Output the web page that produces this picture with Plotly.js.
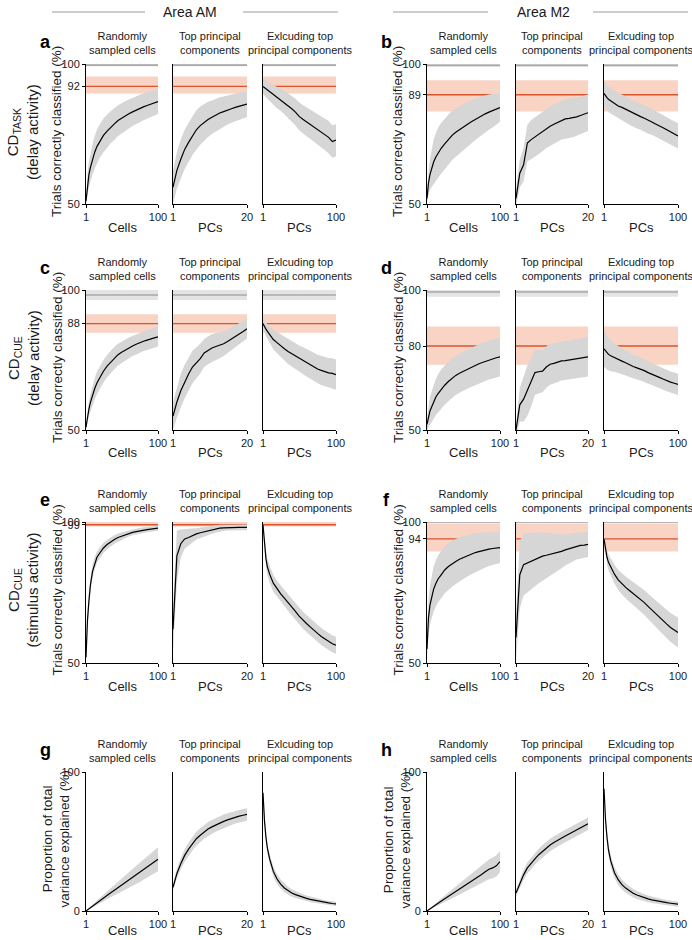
<!DOCTYPE html>
<html>
<head>
<meta charset="utf-8">
<script src="https://cdn.plot.ly/plotly-3.0.1.min.js"></script>
<style>
html,body{margin:0;padding:0;background:#fff;}
#chart{width:692px;height:940px;}
</style>
</head>
<body>
<div id="chart"></div>
<script>
// ---------------- DATA ----------------
const xCells = [1,2,3,5,7,10,13,16,20,25,30,35,40,45,50,55,60,65,70,75,80,85,90,95,100];
const xPCs   = [1,2,3,4,5,6,7,8,9,10,11,12,13,14,15,16,17,18,19,20];
const xExcl  = [1,2,3,5,7,10,15,20,25,30,35,40,45,50,55,60,65,70,75,80,85,90,95,100];

// Panel a: Area AM, CD_TASK (delay activity)
const a1Mean = [51,54,57,60.5,63,66,68.5,70.5,72.5,74.5,76,77.5,78.6,79.8,80.7,81.4,82.2,82.9,83.6,84.1,84.7,85.2,85.6,86.1,86.6];
const a1Sd   = [1,2.5,3.5,4.5,5,5.5,5.8,6,6,6,6,5.8,5.7,5.5,5.4,5.3,5.2,5,5,4.9,4.8,4.7,4.6,4.5,4.5];
const a2Mean = [56,62,66,69.5,72,74.5,76.5,78,79.2,80.2,81,81.8,82.5,83,83.6,84,84.5,85,85.3,85.7];
const a2Sd   = [6,6.5,7,7,7,7,7,6.8,6.5,6.3,6,5.8,5.6,5.4,5.2,5,4.9,4.8,4.7,4.6];
const a3Mean = [92,91.8,91.5,91,90.6,90,89,88,87.3,86.3,85,84,82.8,81.3,80.3,79.4,78.6,77.5,76.8,75.8,75,73.8,72.3,72.8];
const a3Sd   = [2.5,2.6,2.8,3,3.2,3.3,3.5,3.8,4,4.2,4.4,4.6,4.8,5,5.1,5.2,5.3,5.4,5.5,5.6,5.7,5.8,5.8,5.8];

// Panel b: Area M2, CD_TASK (delay activity)
const b1Mean = [52,55,57.5,60.5,62.5,65,66.8,68.3,69.8,71.5,73,74.5,75.6,76.6,77.5,78.3,79.2,80,80.8,81.5,82.2,82.8,83.3,83.8,84.4];
const b1Sd   = [1.5,3,4,5.5,6.5,8,8.5,9,9,9,9,8.8,8.6,8.4,8.2,8,7.8,7.5,7.2,6.9,6.6,6.3,6,5.6,5];
const b2Mean = [52,61,64,71.8,73,74,74.8,75.8,77,77.8,78.5,79.2,80,80.4,80.6,80.8,81.1,81.6,82.1,82.6];
const b2Sd   = [3,5,6,6.5,7,7,7,7,7,7,7,7,7,7,7,7,6.8,6.7,6.6,6.5];
const b3Mean = [89.5,89,88.6,88,87.4,86.8,85.8,85,84.5,83.8,83,82.3,81.7,81.2,80.6,79.8,79.3,78.6,78,77.2,76.5,75.7,75,74.3];
const b3Sd   = [4.5,4.5,4.5,4.5,4.5,4.5,4.6,4.6,4.6,4.7,4.7,4.7,4.7,4.7,4.7,4.7,4.6,4.6,4.6,4.6,4.5,4.5,4.5,4.5];

// Panel c: Area AM, CD_CUE (delay activity)
const c1Mean = [51,53,55,57.5,59.8,62.5,64.8,66.8,68.8,71,72.8,74.3,75.7,76.9,77.8,78.6,79.3,80,80.6,81.2,81.7,82.1,82.6,82.9,83.3];
const c1Sd   = [1,1.5,2,2.5,3,3.5,3.8,4,4,4,4,4,4,3.9,3.8,3.7,3.7,3.6,3.6,3.5,3.5,3.5,3.5,3.5,3.5];
const c2Mean = [55,60,64,67.3,70,72.5,74,75.5,77.5,78.5,79.3,79.8,80.2,80.8,81.6,82.6,83.5,84.3,85.2,86.2];
const c2Sd   = [5,5.5,6,6,6,5.8,5.5,5.3,5,5,5,4.8,4.6,4.4,4.2,4,3.8,3.7,3.6,3.5];
const c3Mean = [88,87.4,86.9,86,85.2,84,82.3,81.2,80,79,78,77.2,76.3,75.5,74.8,74,73.2,72.4,71.8,71.3,70.8,70.4,70.2,69.8];
const c3Sd   = [1.5,1.8,2,2.5,2.8,3,3.5,3.8,4,4.2,4.4,4.5,4.6,4.7,4.8,4.9,5,5,5.1,5.2,5.3,5.3,5.4,5.4];

// Panel d: Area M2, CD_CUE (delay activity)
const d1Mean = [52,53.5,55,56.8,58,60,61.8,63,64.5,66,67.3,68.5,69.5,70.3,71,71.6,72.3,72.9,73.5,74,74.5,75,75.4,75.8,76.1];
const d1Sd   = [2,3,4,5,5.5,6,6.5,6.8,7,7,7,7,7,7,7,7,7,7,7,7,7,7,7,7,7];
const d2Mean = [50,59,61,64,67,70.5,70.8,71,72.5,73.5,73.8,74.2,74.7,74.8,75,75.3,75.5,75.7,75.9,76.1];
const d2Sd   = [2,6,8,9,8.5,8,7.8,7.5,7.4,7.3,7.2,7.1,7,7,7,7,7,7,7,7];
const d3Mean = [79,78.7,78.4,77.5,77,76.5,75.8,75.2,74.6,74,73.3,72.7,72.2,71.8,71.2,70.5,70,69.4,68.8,68.2,67.6,67.1,66.7,66.3];
const d3Sd   = [6.5,6.4,6.2,6,5.8,5.5,5,4.8,4.6,4.5,4.4,4.3,4.2,4.1,4,4,3.9,3.9,3.8,3.8,3.8,3.8,3.8,3.8];

// Panel e: Area AM, CD_CUE (stimulus activity)
const e1Mean = [52,60,65,72,77.5,82.5,85.5,87.5,89,90.8,92,93,93.8,94.5,95,95.5,96,96.3,96.6,96.9,97.1,97.3,97.5,97.7,97.8];
const e1Sd   = [2,2.5,2.5,2.5,2.5,2.3,2.2,2,1.9,1.8,1.7,1.6,1.5,1.4,1.3,1.2,1.1,1,1,1,1,0.9,0.9,0.9,0.9];
const e2Mean = [62,88,92.3,94,94.5,95.2,95.8,96.2,96.5,96.8,97.2,97.6,97.8,97.9,98,98,98.1,98.1,98.1,98.1];
const e2Sd   = [8,9,5,3.5,3,2.5,2,1.8,1.6,1.5,1.4,1.3,1.2,1.1,1,1,1,1,1,1];
const e3Mean = [99,95,92,87,84,81.5,78.3,76.2,74.5,73,71.5,69.8,68.3,66.6,65.2,64,62.8,61.5,60.5,59.4,58.5,57.5,56.8,56.3];
const e3Sd   = [0.5,1,1.5,2.5,2.8,3,3,3,3,3,3,3,3,3,3,3,3,3,3,3,3,3,3,3];

// Panel f: Area M2, CD_CUE (stimulus activity)
const f1Mean = [55,62,66,70.5,73,76.2,78.2,79.8,81.2,83,84.2,85.2,86,86.8,87.4,88,88.5,89,89.4,89.8,90.1,90.4,90.6,90.8,90.9];
const f1Sd   = [3,5,6,7,7.5,8,8.2,8.3,8.3,8.3,8.3,8.2,8,7.8,7.6,7.4,7.2,7,6.8,6.5,6.2,6,5.8,5.6,5.4];
const f2Mean = [59,81.3,84.9,85.5,86,86.7,87.3,87.9,88.2,88.5,88.8,89.2,89.6,90.1,90.5,91,91.5,91.7,91.8,92.1];
const f2Sd   = [8,12,11,10.5,10,9.5,9,8.5,8,7.5,7,6.5,6,5.5,5.2,5,4.8,4.6,4.5,4.5];
const f3Mean = [94,92,90.5,87.5,85.7,84,81.5,79.5,78,76.8,75.7,74.7,73.7,72.6,71.4,70.1,68.8,67.4,66.2,65,63.8,62.6,61.6,60.8];
const f3Sd   = [1,1.5,2,2.5,2.8,3,3.3,3.5,3.7,3.9,4,4.1,4.2,4.3,4.4,4.5,4.6,4.7,4.8,4.9,5,5.1,5.2,5.3];

// Panel g: Area AM, variance explained
const g1Mean = [0,0.4,0.8,1.6,2.4,3.6,4.8,6,7.5,9.4,11.2,13.1,14.9,16.8,18.7,20.5,22.4,24.2,26,27.8,29.7,31.5,33.3,35.2,37.2];
const g1Sd   = [0,0.2,0.3,0.5,0.7,1,1.3,1.6,2,2.4,2.8,3.2,3.6,4,4.5,5,5.5,6,6.5,7,7.3,7.6,8,8.3,8.6];
const g2Mean = [17,27,34,40,44.5,48.5,52,54.5,57,59,60.5,62,63.3,64.5,65.6,66.6,67.5,68.2,68.9,69.5];
const g2Sd   = [2.5,3.5,4,4.5,4.8,5,5,5,5,5,5,5,5,4.9,4.8,4.7,4.6,4.5,4.5,4.5];
const g3Mean = [85,74,65,53,45,37.5,28.5,23,19.3,16.6,14.6,13,11.8,10.8,9.9,9.1,8.4,7.8,7.2,6.7,6.2,5.8,5.4,5.1];
const g3Sd   = [1,2,2.5,3,3.2,3.4,3.5,3.5,3.3,3.1,2.9,2.7,2.5,2.3,2.2,2.1,2,1.9,1.8,1.7,1.6,1.5,1.5,1.5];

// Panel h: Area M2, variance explained
const h1Mean = [0,0.4,0.7,1.5,2.2,3.4,4.5,5.6,7,8.8,10.5,12.3,14,15.8,17.6,19.3,21,22.8,24.5,26.3,28.2,30,31,32.5,35.5];
const h1Sd   = [0,0.2,0.3,0.5,0.7,1,1.3,1.6,2,2.4,2.8,3.2,3.6,4,4.4,4.8,5.2,5.6,6,6.4,6.8,7.1,7.4,7.6,7.7];
const h2Mean = [13,20,26,31,34.5,37.5,40.5,43,45.3,47.5,49.3,51,52.6,54,55.4,56.8,58.2,59.6,61.2,62.8];
const h2Sd   = [2.5,3,3.5,4,4,4.2,4.3,4.4,4.5,4.5,4.5,4.5,4.5,4.5,4.5,4.5,4.5,4.5,4.5,4.5];
const h3Mean = [88,76,66,53,44,36,27.5,22.5,19,16.5,14.5,12.8,11.5,10.4,9.5,8.7,8,7.4,6.9,6.4,6,5.6,5.2,4.9];
const h3Sd   = [1,2,3,3.5,3.8,4,4,3.8,3.6,3.4,3.2,3,2.8,2.6,2.5,2.4,2.3,2.2,2.1,2,1.9,1.8,1.8,1.8];

// Reference levels (panels a-f): full-model accuracy (red) and upper bound (grey)
const refLevel = [92, 89, 88, 80, 99, 94];
const refLow   = [89.5, 83, 84.7, 73.3, 98.4, 89.5];
const refHigh  = [95.5, 94.2, 91.3, 87, 100, 99.5];
const ceilLevel = [99.6, 99.5, 98.2, 99.3, 100, 100];
const ceilLow   = [99.2, 99.1, 96.4, 97.6, 99.6, 99.6];
const ceilHigh  = [100, 100, 100, 100, 100, 100];

// Tick values / labels
const yTickVals = [[50,92,100],[50,89,100],[50,88,100],[50,80,100],[50,99,100],[50,94,100],[0,100],[0,100]];
const xMaxVals = [100, 20, 100];
const panelLetters = ['a','b','c','d','e','f','g','h'];
const subTitles = ['Randomly<br>sampled cells','Top principal<br>components','Exlcuding top<br>principal components'];
const xTitles = ['Cells','PCs','PCs'];
const areaTitles = ['Area AM','Area M2'];
const rowLabels = ['CD<sub>TASK</sub><br>(delay activity)','CD<sub>CUE</sub><br>(delay activity)','CD<sub>CUE</sub><br>(stimulus activity)'];
const yTitleAcc = 'Trials correctly classified (%)';
const yTitleVar = 'Proportion of total<br>variance explained (%)';

// ---------------- LAYOUT GEOMETRY (pixels) ----------------
const W = 692, H = 940;
const px = x => x / W;
const py = y => 1 - y / H;
const colX = [[[86,158],[173,247],[263,336]], [[427,500],[516,588],[604,678]]];
const rowY = [[64,204],[290,430],[522,663],[772,911]];
const FONT = 'Liberation Sans, Arial, Helvetica, sans-serif';

const seriesData = [
  [[a1Mean,a1Sd],[a2Mean,a2Sd],[a3Mean,a3Sd]],
  [[b1Mean,b1Sd],[b2Mean,b2Sd],[b3Mean,b3Sd]],
  [[c1Mean,c1Sd],[c2Mean,c2Sd],[c3Mean,c3Sd]],
  [[d1Mean,d1Sd],[d2Mean,d2Sd],[d3Mean,d3Sd]],
  [[e1Mean,e1Sd],[e2Mean,e2Sd],[e3Mean,e3Sd]],
  [[f1Mean,f1Sd],[f2Mean,f2Sd],[f3Mean,f3Sd]],
  [[g1Mean,g1Sd],[g2Mean,g2Sd],[g3Mean,g3Sd]],
  [[h1Mean,h1Sd],[h2Mean,h2Sd],[h3Mean,h3Sd]]
];
const xSets = [xCells, xPCs, xExcl];

const traces = [];
const layout = {
  width: W, height: H,
  margin: {l:0, r:0, t:0, b:0},
  paper_bgcolor: '#fff', plot_bgcolor: 'rgba(0,0,0,0)',
  showlegend: false,
  font: {family: FONT, color: '#1a1a1a', size: 11},
  annotations: [], shapes: []
};

for (let p = 0; p < 8; p++) {
  const col = p % 2, row = Math.floor(p / 2);
  const [yt, yb] = rowY[row];
  for (let s = 0; s < 3; s++) {
    const k = p * 3 + s + 1;
    const xa = 'x' + k, ya = 'y' + k;
    const [xl, xr] = colX[col][s];
    const xmax = xMaxVals[s];
    const xs = xSets[s];
    const [mean, sd] = seriesData[p][s];
    const yr = row < 3 ? [50, 100] : [0, 100];

    if (row < 3) {
      traces.push({x:[1,xmax,xmax,1], y:[ceilLow[p],ceilLow[p],ceilHigh[p],ceilHigh[p]], xaxis:xa, yaxis:ya,
        type:'scatter', mode:'lines', fill:'toself', fillcolor:'#e3e3e3', line:{width:0}, hoverinfo:'skip'});
      traces.push({x:[1,xmax], y:[ceilLevel[p],ceilLevel[p]], xaxis:xa, yaxis:ya,
        type:'scatter', mode:'lines', line:{color:'#a9a9a9', width:1.6}, hoverinfo:'skip'});
      traces.push({x:[1,xmax,xmax,1], y:[refLow[p],refLow[p],refHigh[p],refHigh[p]], xaxis:xa, yaxis:ya,
        type:'scatter', mode:'lines', fill:'toself', fillcolor:'#f9d3c3', line:{width:0}, hoverinfo:'skip'});
      traces.push({x:[1,xmax], y:[refLevel[p],refLevel[p]], xaxis:xa, yaxis:ya,
        type:'scatter', mode:'lines', line:{color:'#d8552e', width:1.4}, hoverinfo:'skip'});
    }
    const bx = xs.concat(xs.slice().reverse());
    const by = mean.map((m,i)=>m+sd[i]).concat(mean.map((m,i)=>m-sd[i]).reverse());
    traces.push({x:bx, y:by, xaxis:xa, yaxis:ya, type:'scatter', mode:'lines', fill:'toself',
      fillcolor:'#d6d6d6', line:{width:0}, hoverinfo:'skip'});
    traces.push({x:xs, y:mean, xaxis:xa, yaxis:ya, type:'scatter', mode:'lines',
      line:{color:'#000', width:1.2}, hoverinfo:'skip'});

    const axKey = k === 1 ? '' : String(k);
    layout['xaxis' + axKey] = {
      domain:[px(xl), px(xr)], anchor: ya, range:[1, xmax], fixedrange:true,
      showgrid:false, zeroline:false, showline:true, linecolor:'#000', linewidth:1,
      ticks:'outside', ticklen:3, tickcolor:'#000', tickvals:[1, xmax], ticktext:['1', String(xmax)],
      tickfont:{family:FONT, size:11, color:'#1a1a1a'}, automargin:false
    };
    layout['yaxis' + axKey] = {
      domain:[py(yb), py(yt)], anchor: xa, range: yr, fixedrange:true,
      showgrid:false, zeroline:false, showline:true, linecolor:'#000', linewidth:1,
      ticks: s === 0 ? 'outside' : '', ticklen:3, tickcolor:'#000',
      tickvals: yTickVals[p], showticklabels: s === 0,
      tickfont:{family:FONT, size:11, color:'#1a1a1a'}, automargin:false
    };
    // subplot title
    layout.annotations.push({xref:'paper', yref:'paper', x:px((xl+xr)/2), y:py(yt-6),
      xanchor:'center', yanchor:'bottom', showarrow:false, text:subTitles[s],
      font:{family:FONT, size:11, color:'#1a1a1a'}});
    // x-axis title
    layout.annotations.push({xref:'paper', yref:'paper', x:px((xl+xr)/2), y:py(yb + (row < 3 ? 23 : 19)),
      xanchor:'center', yanchor:'middle', showarrow:false, text:xTitles[s],
      font:{family:FONT, size:13, color:'#1a1a1a'}});
  }
  const lx = col === 0 ? 45 : 386;
  layout.annotations.push({xref:'paper', yref:'paper', x:px(lx), y:py(rowY[row][0]-22),
    xanchor:'center', yanchor:'middle', showarrow:false, text:'<b>' + panelLetters[p] + '</b>',
    font:{family:FONT, size:18, color:'#000'}});
  const ycx = col === 0 ? 57 : 398;
  const yc = (rowY[row][0] + rowY[row][1]) / 2;
  layout.annotations.push({xref:'paper', yref:'paper', x:px(row < 3 ? ycx : ycx - 1), y:py(yc - 2),
    xanchor:'center', yanchor:'middle', showarrow:false, textangle:-90,
    text: row < 3 ? yTitleAcc : yTitleVar,
    font:{family:FONT, size:13.5, color:'#1a1a1a'}});
}

for (let r = 0; r < 3; r++) {
  const yc = (rowY[r][0] + rowY[r][1]) / 2;
  layout.annotations.push({xref:'paper', yref:'paper', x:px(23), y:py(yc - 2),
    xanchor:'center', yanchor:'middle', showarrow:false, textangle:-90, text:rowLabels[r],
    font:{family:FONT, size:15, color:'#1a1a1a'}});
}

const areaCx = [190, 543];
const ruleSegs = [[[52,145],[243,338]], [[393,488],[593,688]]];
for (let c = 0; c < 2; c++) {
  layout.annotations.push({xref:'paper', yref:'paper', x:px(areaCx[c]), y:py(12),
    xanchor:'center', yanchor:'middle', showarrow:false, text:areaTitles[c],
    font:{family:FONT, size:14, color:'#1a1a1a'}});
  for (const [x0, x1] of ruleSegs[c]) {
    layout.shapes.push({type:'line', xref:'paper', yref:'paper', x0:px(x0), x1:px(x1), y0:py(12), y1:py(12),
      line:{color:'#bdbdbd', width:1.5}});
  }
}

Plotly.newPlot('chart', traces, layout, {staticPlot:true, displayModeBar:false});
</script>
</body>
</html>
